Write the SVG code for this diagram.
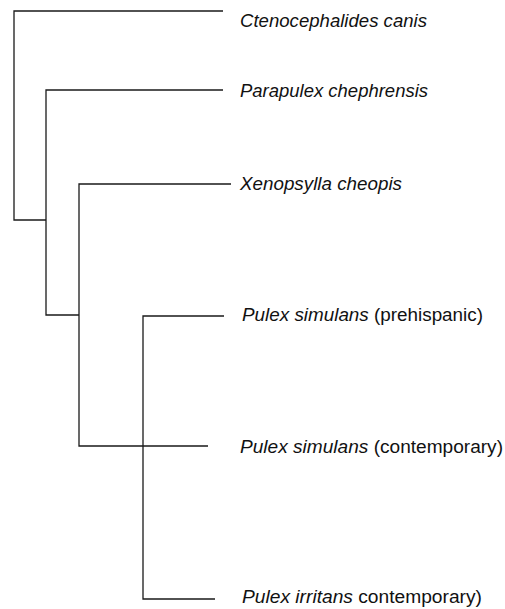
<svg xmlns="http://www.w3.org/2000/svg" width="505" height="609" viewBox="0 0 505 609">
<style>
.br{fill:none;stroke:#1a1a1a;stroke-width:1.3}
.lb{font-family:"Liberation Sans",Arial,sans-serif;font-size:17.5px;fill:#111}
.it{font-style:italic}
</style>
<rect width="505" height="609" fill="#fff"/>
<g id="connectors">
<path class="br" d="M223,11 H14 V220 H46"/>
<path class="br" d="M223,90 H46 V315 H79"/>
<path class="br" d="M231,184 H79 V446 H208"/>
<path class="br" d="M224,316 H143 V599 H215"/>
</g>
<g id="n1"><text class="lb it" x="240" y="27" textLength="187" lengthAdjust="spacingAndGlyphs">Ctenocephalides canis</text></g>
<g id="n2"><text class="lb it" x="240" y="97" textLength="188" lengthAdjust="spacingAndGlyphs">Parapulex chephrensis</text></g>
<g id="n3"><text class="lb it" x="240" y="190" textLength="162" lengthAdjust="spacingAndGlyphs">Xenopsylla cheopis</text></g>
<g id="n4"><text class="lb" x="242" y="321" textLength="241" lengthAdjust="spacingAndGlyphs"><tspan class="it">Pulex simulans</tspan> (prehispanic)</text></g>
<g id="n5"><text class="lb" x="240" y="453" textLength="263" lengthAdjust="spacingAndGlyphs"><tspan class="it">Pulex simulans</tspan> (contemporary)</text></g>
<g id="n6"><text class="lb" x="242" y="603" textLength="240" lengthAdjust="spacingAndGlyphs"><tspan class="it">Pulex irritans</tspan> contemporary)</text></g>
</svg>
